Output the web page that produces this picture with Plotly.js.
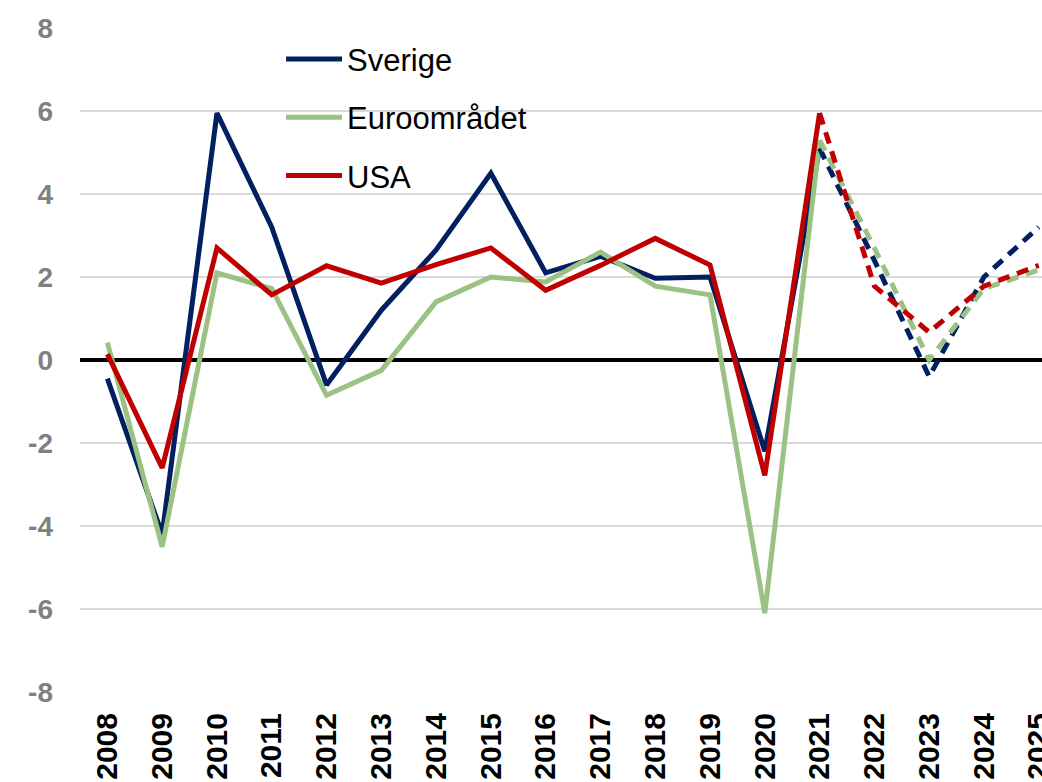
<!DOCTYPE html>
<html>
<head>
<meta charset="utf-8">
<script src="https://cdn.plot.ly/plotly-3.0.1.min.js"></script>
<style>
  html, body { margin: 0; padding: 0; background: #fff; overflow: hidden; }
  #chart { width: 1042px; height: 782px; }
</style>
</head>
<body>
<div id="chart"></div>
<script>
// years on the x axis
var years = ['2008', '2009', '2010', '2011', '2012', '2013', '2014', '2015', '2016',
             '2017', '2018', '2019', '2020', '2021', '2022', '2023', '2024', '2025'];

// last outcome year, after that the lines are forecasts (dashed)
var lastOutcome = '2021';

var sverige = [-0.45, -4.2, 5.95, 3.2, -0.6, 1.2, 2.65, 4.5, 2.1, 2.5, 1.97, 2.0, -2.2, 5.1, 2.4, -0.4, 2.0, 3.2];
var euro    = [0.42, -4.5, 2.1, 1.72, -0.85, -0.25, 1.4, 2.0, 1.88, 2.6, 1.78, 1.57, -6.1, 5.3, 2.7, 0.0, 1.72, 2.17];
var usa     = [0.14, -2.6, 2.7, 1.57, 2.27, 1.85, 2.3, 2.7, 1.68, 2.28, 2.93, 2.29, -2.78, 5.95, 1.78, 0.67, 1.78, 2.28];

// y ticks (hyphen minus like the original)
var yTicks = [-8, -6, -4, -2, 0, 2, 4, 6, 8];
var yTickText = ['-8', '-6', '-4', '-2', '0', '2', '4', '6', '8'];

var names  = ['Sverige', 'Euroområdet', 'USA'];
var colors = ['#002060', '#9BC183', '#C00000'];
var series = [sverige, euro, usa];

var cut = years.indexOf(lastOutcome);

function part(vals, from, to) {
    return vals.map(function(v, i) { return (i >= from && i <= to) ? v : null; });
}

var data = [];
series.forEach(function(vals, k) {
    data.push({
        x: years,
        y: part(vals, 0, cut),
        type: 'scatter',
        mode: 'lines',
        name: names[k],
        legendgroup: names[k],
        line: { color: colors[k], width: 5 }
    });
});
series.forEach(function(vals, k) {
    data.push({
        x: years,
        y: part(vals, cut, years.length - 1),
        type: 'scatter',
        mode: 'lines',
        name: names[k],
        legendgroup: names[k],
        showlegend: false,
        line: { color: colors[k], width: 5, dash: '12px,8px' }
    });
});

var font = 'Arial, "Liberation Sans", sans-serif';

var layout = {
    width: 1042,
    height: 782,
    margin: { l: 80, r: 0, t: 28, b: 90 },
    paper_bgcolor: '#ffffff',
    plot_bgcolor: '#ffffff',
    font: { family: font, color: '#000' },
    showlegend: true,
    legend: {
        x: 0.209,
        y: 0.9935,
        xanchor: 'left',
        yanchor: 'top',
        bgcolor: 'rgba(0,0,0,0)',
        font: { size: 31, color: '#000', family: font },
        traceorder: 'grouped',
        tracegroupgap: 15,
        itemwidth: 56
    },
    xaxis: {
        type: 'category',
        range: [-0.5, 17.06],
        showgrid: false,
        showline: false,
        zeroline: false,
        automargin: false,
        ticks: '',
        tickangle: -90,
        ticklabelstandoff: 14,
        tickfont: { size: 30, color: '#000', family: font, weight: 'bold' }
    },
    yaxis: {
        range: [-8, 8],
        tickmode: 'array',
        tickvals: yTicks,
        ticktext: yTickText,
        showgrid: true,
        gridcolor: '#d9d9d9',
        gridwidth: 1.5,
        zeroline: true,
        zerolinecolor: '#000',
        zerolinewidth: 4,
        showline: false,
        automargin: false,
        ticks: '',
        ticklabelstandoff: 26,
        tickfont: { size: 28, color: '#808080', family: font, weight: 'bold' }
    }
};

Plotly.newPlot('chart', data, layout, { displayModeBar: false, staticPlot: true });
</script>
</body>
</html>
